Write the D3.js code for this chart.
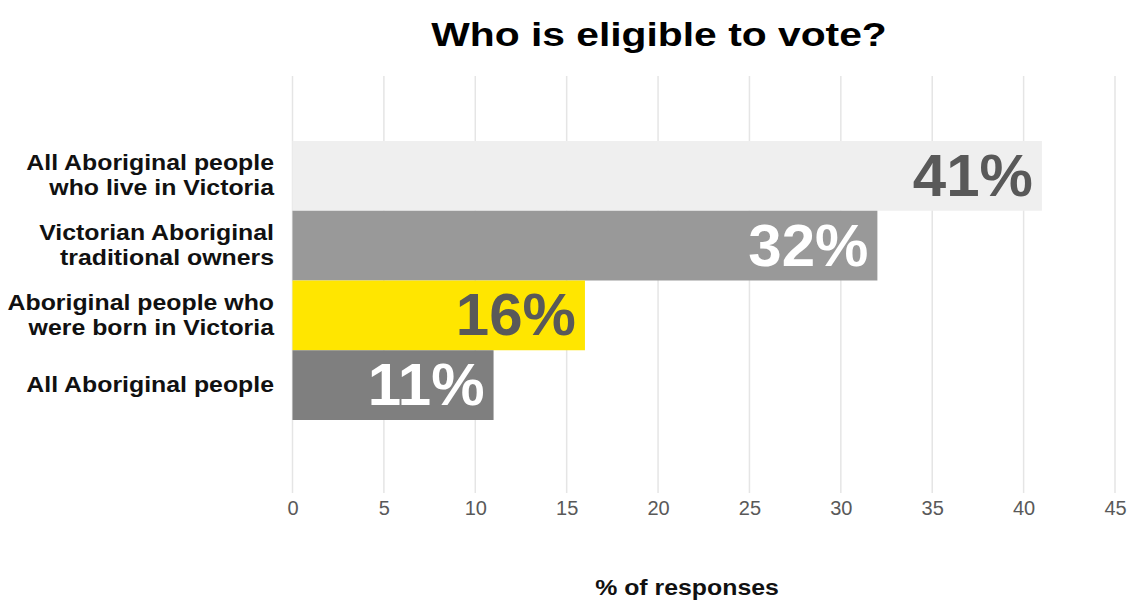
<!DOCTYPE html>
<html>
<head>
<meta charset="utf-8">
<script src="https://cdn.jsdelivr.net/npm/d3@7"></script>
<style>
  html, body { margin: 0; padding: 0; background: #fff; }
  svg { display: block; font-family: "Liberation Sans", Arial, sans-serif; }
</style>
</head>
<body>
<svg id="chart" width="1129" height="600"></svg>
<script>
// Survey answers, top to bottom
const categories = [
  ["All Aboriginal people", "who live in Victoria"],
  ["Victorian Aboriginal", "traditional owners"],
  ["Aboriginal people who", "were born in Victoria"],
  ["All Aboriginal people"]
];
const values = [41, 32, 16, 11];
const barColors = ["#efefef", "#999999", "#ffe600", "#7f7f7f"];
const labelColors = ["#595959", "#ffffff", "#595959", "#ffffff"];
const tickValues = [0, 5, 10, 15, 20, 25, 30, 35, 40, 45];

const svg = d3.select("#chart");

const x = d3.scaleLinear().domain([0, 45]).range([292.5, 1115]);
const y = d3.scaleBand().domain(d3.range(categories.length)).range([141, 420]).padding(0);

// vertical gridlines
svg.append("g")
  .selectAll("line")
  .data(tickValues)
  .join("line")
  .attr("x1", d => x(d)).attr("x2", d => x(d))
  .attr("y1", 76).attr("y2", 493)
  .attr("stroke", "#e5e5e5")
  .attr("stroke-width", 1.5);

// bars
svg.append("g")
  .selectAll("rect")
  .data(values)
  .join("rect")
  .attr("x", x(0))
  .attr("y", (d, i) => y(i))
  .attr("width", d => x(d) - x(0))
  .attr("height", y.bandwidth())
  .attr("fill", (d, i) => barColors[i]);

// value labels inside the bar ends
svg.append("g")
  .selectAll("text")
  .data(values)
  .join("text")
  .attr("x", d => x(d) - 9)
  .attr("y", (d, i) => y(i) + y.bandwidth() / 2 + 20)
  .attr("text-anchor", "end")
  .attr("font-size", 60)
  .attr("font-weight", "bold")
  .attr("fill", (d, i) => labelColors[i])
  .text(d => d + "%");

// category labels (slightly widened type)
const catG = svg.append("g");
categories.forEach((lines, i) => {
  const cy = y(i) + y.bandwidth() / 2;
  const lh = 25;
  const t = catG.append("g")
    .attr("transform", `translate(274,${cy}) scale(1.13,1)`)
    .append("text")
    .attr("text-anchor", "end")
    .attr("font-size", 22)
    .attr("font-weight", "bold")
    .attr("fill", "#111");
  lines.forEach((ln, k) => {
    t.append("tspan")
      .attr("x", 0)
      .attr("y", (k - (lines.length - 1) / 2) * lh + 7)
      .text(ln);
  });
});

// x axis tick labels
const xAxis = d3.axisBottom(x).tickValues(tickValues).tickSize(0).tickPadding(0);
const ax = svg.append("g").attr("transform", "translate(0,501)").call(xAxis);
ax.select(".domain").remove();
ax.selectAll("text")
  .attr("font-size", 20)
  .attr("font-family", "'Liberation Sans', Arial, sans-serif")
  .attr("fill", "#595959")
  .attr("dy", "0.71em");

// axis title
svg.append("g")
  .attr("transform", "translate(687,595) scale(1.13,1)")
  .append("text")
  .attr("text-anchor", "middle")
  .attr("font-size", 22)
  .attr("font-weight", "bold")
  .attr("fill", "#111")
  .text("% of responses");

// chart title
svg.append("g")
  .attr("transform", "translate(659,46) scale(1.2,1)")
  .append("text")
  .attr("text-anchor", "middle")
  .attr("font-size", 34)
  .attr("font-weight", "bold")
  .attr("fill", "#000")
  .text("Who is eligible to vote?");
</script>
</body>
</html>
